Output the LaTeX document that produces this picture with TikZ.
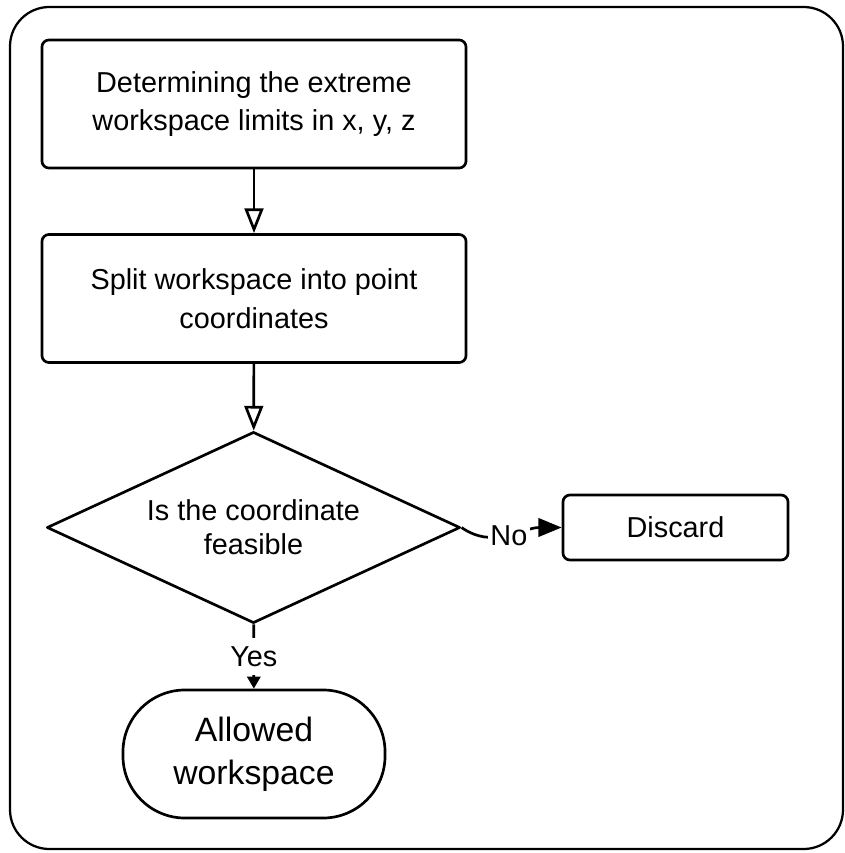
\documentclass[tikz,border=0pt]{standalone}
\usepackage{fontspec}
\setmainfont{Liberation Sans}
\usetikzlibrary{shapes.geometric,arrows.meta}
\begin{document}
\begin{tikzpicture}[x=0.025cm, y=-0.025cm, line join=round, line width=1.9pt,
		font=\fontsize{20.5}{27.5}\selectfont,
		stepbox/.style={draw, rounded corners=5pt, minimum width=10.6cm, minimum height=3.2cm, align=center, inner sep=0pt},
		decision/.style={draw, diamond, aspect=2.16, minimum width=10.33cm, minimum height=4.78cm, inner sep=0pt, align=center, font=\fontsize{20.5}{24}\selectfont},
		endbox/.style={draw, rounded corners=1.55cm, minimum width=6.55cm, minimum height=3.2cm, align=center, font=\fontsize{24}{30.5}\selectfont},
		openarr/.style={-{Triangle[open, length=0.62cm, width=0.47cm]}},
		fullarr/.style={-{Triangle[length=0.58cm, width=0.46cm]}}]
				\useasboundingbox (0,0) rectangle (845,853);
				\draw[line width=1.6pt, rounded corners=28pt] (10,7) rectangle (843,849);
				\node[stepbox] (lim) at (254,104) {Determining the extreme\\workspace limits in x, y, z};
				\node[stepbox] (split) at (254,298.5) {Split workspace into point\\coordinates};
				\node[decision] (dec) at (253.5,527.5) {Is the coordinate\\feasible};
				\node[stepbox, minimum width=5.625cm, minimum height=1.625cm] (disc) at (675.5,527.5) {Discard};
				\node[endbox] (allow) at (254,754) {Allowed\\workspace};
				\draw[openarr] (lim) -- (split);
				\draw[openarr] (split) -- (dec);
				\draw[fullarr] (dec.east) to[out=-35, in=180] node[fill=white, inner xsep=2pt, inner ysep=0pt] {No} (disc.west);
				\draw[-{Triangle[length=0.3cm, width=0.33cm]}] (dec) -- node[fill=white, inner ysep=6pt] {Yes} (allow);
			\end{tikzpicture}
\end{document}
